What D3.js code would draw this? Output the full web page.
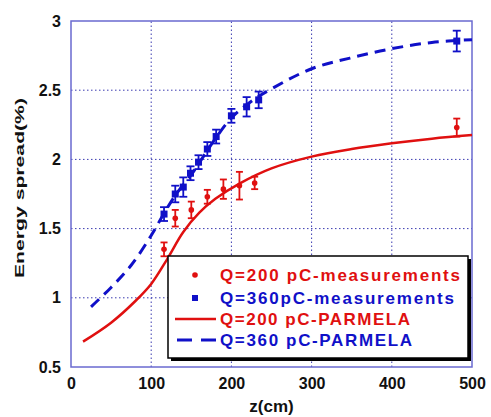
<!DOCTYPE html>
<html>
<head>
<meta charset="utf-8">
<script src="https://cdn.jsdelivr.net/npm/d3@7"></script>
<style>
  body { margin: 0; background: #fff; }
  svg { display: block; font-family: "Liberation Sans", Arial, sans-serif; }
</style>
</head>
<body>
<svg id="chart" width="491" height="417"></svg>
<script>
// measurements, Q=200 pC
const m200Z = [116, 130, 150, 170, 190, 210, 229, 481];
const m200Y = [1.35, 1.575, 1.635, 1.73, 1.785, 1.81, 1.83, 2.23];
const m200Err = [0.05, 0.06, 0.06, 0.05, 0.07, 0.1, 0.045, 0.065];

// measurements, Q=360 pC
const m360Z = [116, 130, 140, 149, 159, 170, 181, 200, 219, 234, 481];
const m360Y = [1.605, 1.75, 1.8, 1.9, 1.98, 2.075, 2.165, 2.315, 2.38, 2.43, 2.855];
const m360Err = [0.05, 0.06, 0.07, 0.05, 0.05, 0.05, 0.05, 0.05, 0.07, 0.06, 0.075];

// PARMELA simulations
const p200Z = [15, 50, 80, 100, 120, 140, 160, 180, 210, 250, 300, 350, 400, 450, 500];
const p200Y = [0.683, 0.82, 0.975, 1.10, 1.28, 1.475, 1.615, 1.715, 1.825, 1.935, 2.02, 2.075, 2.116, 2.15, 2.176];
const p360Z = [25, 50, 75, 100, 115, 130, 150, 165, 180, 200, 225, 250, 300, 350, 400, 450, 500];
const p360Y = [0.935, 1.075, 1.235, 1.45, 1.60, 1.74, 1.89, 2.02, 2.15, 2.30, 2.42, 2.51, 2.655, 2.735, 2.80, 2.845, 2.865];

const xTicks = [0, 100, 200, 300, 400, 500];
const yTicks = [0.5, 1, 1.5, 2, 2.5, 3];
const legendLabels = ["Q=200 pC-measurements", "Q=360pC-measurements", "Q=200 pC-PARMELA", "Q=360 pC-PARMELA"];

const RED = "#e01010", BLUE = "#1010c8", FRAME = "#6a6ad0", GRID = "#3a3ab0";

const svg = d3.select("#chart");
const m = { left: 71, right: 19, top: 21, bottom: 50 };
const W = 491, H = 417;

const x = d3.scaleLinear().domain([0, 500]).range([m.left, W - m.right]);
const y = d3.scaleLinear().domain([0.5, 3]).range([H - m.bottom, m.top]);

// grid (dotted)
svg.append("g").selectAll("line").data(xTicks.slice(1, -1)).join("line")
  .attr("x1", d => x(d)).attr("x2", d => x(d))
  .attr("y1", y(0.5)).attr("y2", y(3))
  .attr("stroke", GRID).attr("stroke-width", 1).attr("stroke-dasharray", "1.5,2.5");
svg.append("g").selectAll("line").data(yTicks.slice(1, -1)).join("line")
  .attr("x1", x(0)).attr("x2", x(500))
  .attr("y1", d => y(d)).attr("y2", d => y(d))
  .attr("stroke", GRID).attr("stroke-width", 1).attr("stroke-dasharray", "1.5,2.5");

// frame
svg.append("rect")
  .attr("x", x(0)).attr("y", y(3))
  .attr("width", x(500) - x(0)).attr("height", y(0.5) - y(3))
  .attr("fill", "none").attr("stroke", FRAME).attr("stroke-width", 1.5);

// tick labels via axes
const xAxis = svg.append("g").attr("transform", `translate(0,${y(0.5)})`)
  .call(d3.axisBottom(x).tickValues(xTicks).tickSize(0).tickPadding(11).tickFormat(d3.format("d")));
const yAxis = svg.append("g").attr("transform", `translate(${x(0)},0)`)
  .call(d3.axisLeft(y).tickValues(yTicks).tickSize(0).tickPadding(10).tickFormat(d => String(d)));
[xAxis, yAxis].forEach(g => {
  g.select(".domain").remove();
  g.selectAll("text").attr("font-size", 16).attr("font-weight", "bold")
    .attr("font-family", "Liberation Sans, Arial, sans-serif").attr("fill", "#111");
});

// axis titles
svg.append("text").attr("x", (x(0) + x(500)) / 2).attr("y", 412)
  .attr("text-anchor", "middle").attr("font-size", 17).attr("font-weight", "bold").attr("fill", "#111")
  .text("z(cm)");
svg.append("text").attr("transform", `translate(24,${(y(0.5) + y(3)) / 2 - 6}) rotate(-90)`)
  .attr("text-anchor", "middle").attr("font-size", 13).attr("font-weight", "bold").attr("fill", "#111")
  .attr("textLength", 180).attr("lengthAdjust", "spacingAndGlyphs")
  .text("Energy spread(%)");

// simulation curves
const line = d3.line().x(d => x(d[0])).y(d => y(d[1])).curve(d3.curveCatmullRom.alpha(0.5));
svg.append("path").datum(d3.zip(p200Z, p200Y)).attr("d", line)
  .attr("fill", "none").attr("stroke", RED).attr("stroke-width", 2.5);
svg.append("path").datum(d3.zip(p360Z, p360Y)).attr("d", line)
  .attr("fill", "none").attr("stroke", BLUE).attr("stroke-width", 3).attr("stroke-dasharray", "11,7");

// error bars + markers
function errorBars(zs, ys, es, color, cap) {
  const data = d3.zip(zs, ys, es);
  const g = svg.append("g").attr("stroke", color).attr("stroke-width", 1.8);
  g.selectAll(".v").data(data).join("line")
    .attr("x1", d => x(d[0])).attr("x2", d => x(d[0]))
    .attr("y1", d => y(d[1] - d[2])).attr("y2", d => y(d[1] + d[2]));
  g.selectAll(".t").data(data).join("line")
    .attr("x1", d => x(d[0]) - cap).attr("x2", d => x(d[0]) + cap)
    .attr("y1", d => y(d[1] + d[2])).attr("y2", d => y(d[1] + d[2]));
  g.selectAll(".b").data(data).join("line")
    .attr("x1", d => x(d[0]) - cap).attr("x2", d => x(d[0]) + cap)
    .attr("y1", d => y(d[1] - d[2])).attr("y2", d => y(d[1] - d[2]));
  return data;
}
const d200 = errorBars(m200Z, m200Y, m200Err, RED, 3.5);
svg.append("g").selectAll("circle").data(d200).join("circle")
  .attr("cx", d => x(d[0])).attr("cy", d => y(d[1])).attr("r", 2.8).attr("fill", RED);
const d360 = errorBars(m360Z, m360Y, m360Err, BLUE, 4);
svg.append("g").selectAll("rect").data(d360).join("rect")
  .attr("x", d => x(d[0]) - 3.5).attr("y", d => y(d[1]) - 3.5)
  .attr("width", 7).attr("height", 7).attr("fill", BLUE);

// legend
const lg = svg.append("g").attr("transform", "translate(168,256)");
lg.append("rect").attr("x", 3).attr("y", 3).attr("width", 300).attr("height", 102).attr("fill", "#000");
lg.append("rect").attr("x", 0).attr("y", 0).attr("width", 300).attr("height", 102)
  .attr("fill", "#fff").attr("stroke", "#000").attr("stroke-width", 1.5);
const rowY = [19, 42, 63, 84];
const colors = [RED, BLUE, RED, BLUE];
lg.append("circle").attr("cx", 27).attr("cy", rowY[0]).attr("r", 2.8).attr("fill", RED);
lg.append("rect").attr("x", 24).attr("y", rowY[1] - 3).attr("width", 6).attr("height", 6).attr("fill", BLUE);
lg.append("line").attr("x1", 7).attr("x2", 48).attr("y1", rowY[2]).attr("y2", rowY[2])
  .attr("stroke", RED).attr("stroke-width", 2.5);
lg.append("line").attr("x1", 9).attr("x2", 48).attr("y1", rowY[3]).attr("y2", rowY[3])
  .attr("stroke", BLUE).attr("stroke-width", 3).attr("stroke-dasharray", "15,9");
const lens = [240, 234, 190, 192];
lg.selectAll("text.lab").data(legendLabels).join("text")
  .attr("x", 52).attr("y", (d, i) => rowY[i] + 6)
  .attr("font-size", 17).attr("font-weight", "bold").attr("fill", (d, i) => colors[i])
  .attr("textLength", (d, i) => lens[i]).attr("lengthAdjust", "spacing")
  .text(d => d);
</script>
</body>
</html>
